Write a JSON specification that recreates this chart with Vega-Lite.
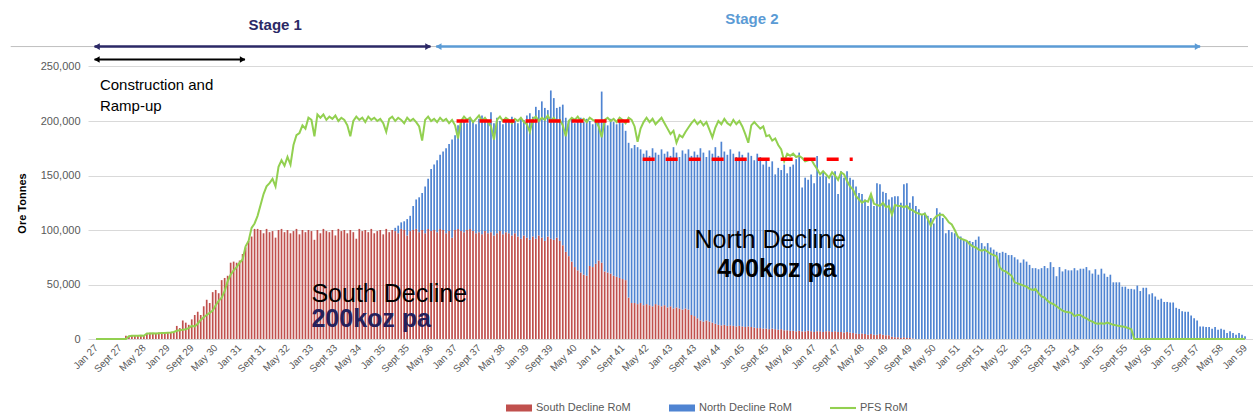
{
"$schema": "https://vega.github.io/schema/vega-lite/v6.json",
"width": 1165, "height": 327,
"autosize": {"type": "none"},
"padding": {"left": 88, "top": 12, "right": 0, "bottom": 80},
"background": "white",
"config": {"view": {"stroke": null}, "font": "Liberation Sans"},
"resolve": {"axis": {"x": "independent", "y": "independent"}},
"datasets": {"rom": [
{"m":0,"s":0,"n":0,"p":0},{"m":1,"s":0,"n":0,"p":0},{"m":2,"s":0,"n":0,"p":0},{"m":3,"s":0,"n":0,"p":0},{"m":4,"s":0,"n":0,"p":0},{"m":5,"s":0,"n":0,"p":0},{"m":6,"s":0,"n":0,"p":0},{"m":7,"s":0,"n":0,"p":0},{"m":8,"s":0,"n":0,"p":0},{"m":9,"s":0,"n":0,"p":0},
{"m":10,"s":3000,"n":0,"p":0},{"m":11,"s":2500,"n":0,"p":2500},{"m":12,"s":3200,"n":0,"p":3000},{"m":13,"s":2800,"n":0,"p":3000},{"m":14,"s":3000,"n":0,"p":3000},{"m":15,"s":3300,"n":0,"p":3200},{"m":16,"s":2900,"n":0,"p":3000},{"m":17,"s":5500,"n":0,"p":5000},{"m":18,"s":5800,"n":0,"p":5000},{"m":19,"s":5200,"n":0,"p":5200},
{"m":20,"s":5600,"n":0,"p":5000},{"m":21,"s":5900,"n":0,"p":5300},{"m":22,"s":5400,"n":0,"p":5500},{"m":23,"s":5700,"n":0,"p":5600},{"m":24,"s":5500,"n":0,"p":5800},{"m":25,"s":6000,"n":0,"p":6000},{"m":26,"s":5800,"n":0,"p":6500},{"m":27,"s":12000,"n":0,"p":7500},{"m":28,"s":10000,"n":0,"p":8000},{"m":29,"s":17000,"n":0,"p":8500},
{"m":30,"s":15000,"n":0,"p":9000},{"m":31,"s":13000,"n":0,"p":10000},{"m":32,"s":18000,"n":0,"p":12000},{"m":33,"s":22000,"n":0,"p":11500},{"m":34,"s":25000,"n":0,"p":14000},{"m":35,"s":22000,"n":0,"p":17500},{"m":36,"s":30000,"n":0,"p":20000},{"m":37,"s":36000,"n":0,"p":22000},{"m":38,"s":33000,"n":0,"p":24000},{"m":39,"s":43000,"n":0,"p":26000},
{"m":40,"s":45000,"n":0,"p":31000},{"m":41,"s":42000,"n":0,"p":35000},{"m":42,"s":54000,"n":0,"p":38000},{"m":43,"s":56000,"n":0,"p":44000},{"m":44,"s":58000,"n":0,"p":53000},{"m":45,"s":70000,"n":0,"p":59000},{"m":46,"s":71000,"n":0,"p":63000},{"m":47,"s":70000,"n":0,"p":66000},{"m":48,"s":72000,"n":0,"p":70000},{"m":49,"s":78000,"n":0,"p":73000},
{"m":50,"s":84000,"n":0,"p":85000},{"m":51,"s":90000,"n":0,"p":90000},{"m":52,"s":94000,"n":0,"p":102000},{"m":53,"s":101000,"n":0,"p":106000},{"m":54,"s":101000,"n":0,"p":113000},{"m":55,"s":100000,"n":0,"p":123000},{"m":56,"s":97000,"n":0,"p":133000},{"m":57,"s":101000,"n":0,"p":140000},{"m":58,"s":98000,"n":0,"p":143000},{"m":59,"s":99000,"n":0,"p":147000},
{"m":60,"s":93000,"n":0,"p":140000},{"m":61,"s":100000,"n":0,"p":158000},{"m":62,"s":101000,"n":0,"p":164000},{"m":63,"s":98000,"n":0,"p":159000},{"m":64,"s":100000,"n":0,"p":167000},{"m":65,"s":97000,"n":0,"p":160000},{"m":66,"s":99000,"n":0,"p":178000},{"m":67,"s":101000,"n":0,"p":187000},{"m":68,"s":96000,"n":0,"p":189000},{"m":69,"s":100000,"n":0,"p":196000},
{"m":70,"s":98000,"n":0,"p":193000},{"m":71,"s":100000,"n":0,"p":203000},{"m":72,"s":99000,"n":0,"p":201000},{"m":73,"s":91000,"n":0,"p":186000},{"m":74,"s":100000,"n":0,"p":206000},{"m":75,"s":97000,"n":0,"p":203000},{"m":76,"s":101000,"n":0,"p":206000},{"m":77,"s":99000,"n":0,"p":201000},{"m":78,"s":98000,"n":0,"p":204000},{"m":79,"s":100000,"n":0,"p":202000},
{"m":80,"s":95000,"n":0,"p":205000},{"m":81,"s":101000,"n":0,"p":200000},{"m":82,"s":99000,"n":0,"p":203000},{"m":83,"s":100000,"n":0,"p":201000},{"m":84,"s":97000,"n":0,"p":196000},{"m":85,"s":100000,"n":0,"p":186000},{"m":86,"s":98000,"n":0,"p":200000},{"m":87,"s":92000,"n":0,"p":204000},{"m":88,"s":101000,"n":0,"p":201000},{"m":89,"s":99000,"n":0,"p":203000},
{"m":90,"s":100000,"n":0,"p":199000},{"m":91,"s":98000,"n":0,"p":204000},{"m":92,"s":101000,"n":0,"p":201000},{"m":93,"s":97000,"n":0,"p":203000},{"m":94,"s":99000,"n":0,"p":200000},{"m":95,"s":100000,"n":0,"p":202000},{"m":96,"s":96000,"n":0,"p":198000},{"m":97,"s":101000,"n":0,"p":190000},{"m":98,"s":98000,"n":0,"p":202000},{"m":99,"s":100000,"n":0,"p":204000},
{"m":100,"s":99000,"n":3000,"p":200000},{"m":101,"s":97000,"n":7000,"p":203000},{"m":102,"s":101000,"n":6000,"p":201000},{"m":103,"s":100000,"n":8000,"p":198000},{"m":104,"s":95000,"n":15000,"p":203000},{"m":105,"s":99000,"n":14000,"p":200000},{"m":106,"s":100000,"n":22000,"p":202000},{"m":107,"s":101000,"n":27000,"p":199000},{"m":108,"s":98000,"n":32000,"p":195000},{"m":109,"s":100000,"n":34000,"p":182000},
{"m":110,"s":97000,"n":43000,"p":201000},{"m":111,"s":101000,"n":46000,"p":204000},{"m":112,"s":99000,"n":57000,"p":200000},{"m":113,"s":100000,"n":60000,"p":202000},{"m":114,"s":98000,"n":66000,"p":199000},{"m":115,"s":101000,"n":68000,"p":203000},{"m":116,"s":100000,"n":72000,"p":200000},{"m":117,"s":97000,"n":78000,"p":202000},{"m":118,"s":99000,"n":80000,"p":198000},{"m":119,"s":93000,"n":90000,"p":201000},
{"m":120,"s":100000,"n":87000,"p":196000},{"m":121,"s":101000,"n":95000,"p":184000},{"m":122,"s":99000,"n":100000,"p":200000},{"m":123,"s":98000,"n":103000,"p":204000},{"m":124,"s":100000,"n":98000,"p":201000},{"m":125,"s":101000,"n":102000,"p":203000},{"m":126,"s":99000,"n":101000,"p":199000},{"m":127,"s":97000,"n":100000,"p":202000},{"m":128,"s":98000,"n":104000,"p":205000},{"m":129,"s":96000,"n":109000,"p":200000},
{"m":130,"s":99000,"n":100000,"p":203000},{"m":131,"s":97000,"n":104000,"p":199000},{"m":132,"s":98000,"n":110000,"p":195000},{"m":133,"s":95000,"n":103000,"p":183000},{"m":134,"s":97000,"n":106000,"p":201000},{"m":135,"s":99000,"n":101000,"p":204000},{"m":136,"s":96000,"n":101000,"p":200000},{"m":137,"s":98000,"n":104000,"p":203000},{"m":138,"s":97000,"n":102000,"p":201000},{"m":139,"s":95000,"n":109000,"p":198000},
{"m":140,"s":97000,"n":103000,"p":202000},{"m":141,"s":94000,"n":104000,"p":200000},{"m":142,"s":92000,"n":111000,"p":203000},{"m":143,"s":95000,"n":106000,"p":199000},{"m":144,"s":93000,"n":112000,"p":197000},{"m":145,"s":91000,"n":116000,"p":190000},{"m":146,"s":94000,"n":110000,"p":202000},{"m":147,"s":92000,"n":121000,"p":204000},{"m":148,"s":95000,"n":115000,"p":200000},{"m":149,"s":93000,"n":125000,"p":203000},
{"m":150,"s":90000,"n":122000,"p":201000},{"m":151,"s":94000,"n":116000,"p":205000},{"m":152,"s":92000,"n":136000,"p":200000},{"m":153,"s":91000,"n":130000,"p":203000},{"m":154,"s":93000,"n":119000,"p":199000},{"m":155,"s":90000,"n":123000,"p":201000},{"m":156,"s":86000,"n":129000,"p":196000},{"m":157,"s":80000,"n":123000,"p":186000},{"m":158,"s":76000,"n":124000,"p":200000},{"m":159,"s":71000,"n":131000,"p":203000},
{"m":160,"s":66000,"n":132000,"p":201000},{"m":161,"s":63000,"n":138000,"p":204000},{"m":162,"s":61000,"n":142000,"p":200000},{"m":163,"s":59000,"n":140000,"p":202000},{"m":164,"s":58000,"n":144000,"p":199000},{"m":165,"s":67000,"n":133000,"p":203000},{"m":166,"s":66000,"n":131000,"p":201000},{"m":167,"s":69000,"n":132000,"p":200000},{"m":168,"s":72000,"n":127000,"p":195000},{"m":169,"s":70000,"n":157000,"p":185000},
{"m":170,"s":62000,"n":138000,"p":201000},{"m":171,"s":61000,"n":135000,"p":203000},{"m":172,"s":60000,"n":142000,"p":200000},{"m":173,"s":58000,"n":141000,"p":202000},{"m":174,"s":57000,"n":140000,"p":199000},{"m":175,"s":56000,"n":145000,"p":203000},{"m":176,"s":55000,"n":143000,"p":201000},{"m":177,"s":54000,"n":137000,"p":198000},{"m":178,"s":38000,"n":142000,"p":203000},{"m":179,"s":33000,"n":142000,"p":201000},
{"m":180,"s":33000,"n":145000,"p":195000},{"m":181,"s":32000,"n":144000,"p":181000},{"m":182,"s":33000,"n":141000,"p":193000},{"m":183,"s":31000,"n":139000,"p":199000},{"m":184,"s":32000,"n":141000,"p":203000},{"m":185,"s":31000,"n":137000,"p":199000},{"m":186,"s":30000,"n":145000,"p":202000},{"m":187,"s":32000,"n":139000,"p":197000},{"m":188,"s":31000,"n":138000,"p":200000},{"m":189,"s":30000,"n":144000,"p":203000},
{"m":190,"s":31000,"n":139000,"p":198000},{"m":191,"s":29000,"n":143000,"p":193000},{"m":192,"s":30000,"n":138000,"p":188000},{"m":193,"s":28000,"n":148000,"p":191000},{"m":194,"s":29000,"n":142000,"p":180000},{"m":195,"s":28000,"n":139000,"p":187000},{"m":196,"s":27000,"n":146000,"p":185000},{"m":197,"s":28000,"n":142000,"p":190000},{"m":198,"s":27000,"n":147000,"p":194000},{"m":199,"s":22000,"n":146000,"p":198000},
{"m":200,"s":21000,"n":151000,"p":201000},{"m":201,"s":19000,"n":150000,"p":197000},{"m":202,"s":17000,"n":158000,"p":200000},{"m":203,"s":16000,"n":155000,"p":196000},{"m":204,"s":17000,"n":150000,"p":199000},{"m":205,"s":16000,"n":157000,"p":192000},{"m":206,"s":15000,"n":155000,"p":185000},{"m":207,"s":14000,"n":162000,"p":194000},{"m":208,"s":13000,"n":155000,"p":200000},{"m":209,"s":12500,"n":168500,"p":197000},
{"m":210,"s":13000,"n":159000,"p":202000},{"m":211,"s":12000,"n":157000,"p":198000},{"m":212,"s":12500,"n":161500,"p":196000},{"m":213,"s":12000,"n":158000,"p":201000},{"m":214,"s":11500,"n":155500,"p":197000},{"m":215,"s":12000,"n":160000,"p":200000},{"m":216,"s":11500,"n":157500,"p":195000},{"m":217,"s":11000,"n":155000,"p":188000},{"m":218,"s":11500,"n":159500,"p":180000},{"m":219,"s":11000,"n":157000,"p":196000},
{"m":220,"s":10500,"n":153500,"p":199000},{"m":221,"s":10000,"n":160000,"p":196000},{"m":222,"s":10000,"n":157000,"p":193000},{"m":223,"s":9500,"n":150500,"p":195000},{"m":224,"s":9500,"n":155500,"p":186000},{"m":225,"s":9000,"n":149000,"p":187000},{"m":226,"s":9500,"n":153500,"p":182000},{"m":227,"s":9000,"n":142000,"p":184000},{"m":228,"s":8500,"n":148500,"p":178000},{"m":229,"s":9000,"n":146000,"p":174000},
{"m":230,"s":8000,"n":152000,"p":163000},{"m":231,"s":8000,"n":144000,"p":170000},{"m":232,"s":7500,"n":150500,"p":168000},{"m":233,"s":7500,"n":152500,"p":170000},{"m":234,"s":7000,"n":158000,"p":167000},{"m":235,"s":7500,"n":163500,"p":168000},{"m":236,"s":7000,"n":132000,"p":166000},{"m":237,"s":7000,"n":141000,"p":163000},{"m":238,"s":7500,"n":138500,"p":164000},{"m":239,"s":7000,"n":144000,"p":165000},
{"m":240,"s":6500,"n":136500,"p":160000},{"m":241,"s":7000,"n":161000,"p":156000},{"m":242,"s":7000,"n":142000,"p":151000},{"m":243,"s":6500,"n":147500,"p":154000},{"m":244,"s":7000,"n":142000,"p":151000},{"m":245,"s":7000,"n":136000,"p":148000},{"m":246,"s":6500,"n":143500,"p":153000},{"m":247,"s":7000,"n":147000,"p":150000},{"m":248,"s":6500,"n":126500,"p":146000},{"m":249,"s":6500,"n":147500,"p":153000},
{"m":250,"s":6000,"n":142000,"p":151000},{"m":251,"s":6500,"n":147500,"p":145000},{"m":252,"s":6000,"n":142000,"p":140000},{"m":253,"s":5500,"n":140500,"p":137000},{"m":254,"s":5000,"n":135000,"p":131000},{"m":255,"s":4500,"n":129500,"p":128000},{"m":256,"s":5000,"n":128000,"p":125000},{"m":257,"s":4500,"n":123500,"p":127000},{"m":258,"s":4000,"n":118000,"p":126000},{"m":259,"s":4500,"n":126500,"p":133000},
{"m":260,"s":4000,"n":118000,"p":124000},{"m":261,"s":4000,"n":139000,"p":123000},{"m":262,"s":4500,"n":137500,"p":122000},{"m":263,"s":4000,"n":131000,"p":125000},{"m":264,"s":3500,"n":130500,"p":121000},{"m":265,"s":3500,"n":124500,"p":122000},{"m":266,"s":2000,"n":128000,"p":114000},{"m":267,"s":1500,"n":129500,"p":123000},{"m":268,"s":1500,"n":129500,"p":122000},{"m":269,"s":1000,"n":124000,"p":122000},
{"m":270,"s":1500,"n":140500,"p":121000},{"m":271,"s":1000,"n":142000,"p":122000},{"m":272,"s":1000,"n":124000,"p":119000},{"m":273,"s":500,"n":130500,"p":118000},{"m":274,"s":0,"n":122000,"p":116000},{"m":275,"s":0,"n":119000,"p":115000},{"m":276,"s":0,"n":114000,"p":114000},{"m":277,"s":0,"n":116000,"p":115000},{"m":278,"s":0,"n":113000,"p":110000},{"m":279,"s":0,"n":111000,"p":104000},
{"m":280,"s":0,"n":106000,"p":110000},{"m":281,"s":0,"n":120000,"p":113000},{"m":282,"s":0,"n":116000,"p":114000},{"m":283,"s":0,"n":111000,"p":114000},{"m":284,"s":0,"n":97000,"p":111000},{"m":285,"s":0,"n":100000,"p":107000},{"m":286,"s":0,"n":98000,"p":105000},{"m":287,"s":0,"n":97000,"p":100000},{"m":288,"s":0,"n":94000,"p":94000},{"m":289,"s":0,"n":94000,"p":92000},
{"m":290,"s":0,"n":91000,"p":91000},{"m":291,"s":0,"n":90000,"p":90000},{"m":292,"s":0,"n":90000,"p":87000},{"m":293,"s":0,"n":89000,"p":85000},{"m":294,"s":0,"n":91000,"p":84000},{"m":295,"s":0,"n":94000,"p":82000},{"m":296,"s":0,"n":88000,"p":81000},{"m":297,"s":0,"n":85000,"p":82000},{"m":298,"s":0,"n":88000,"p":80000},{"m":299,"s":0,"n":84000,"p":78000},
{"m":300,"s":0,"n":82000,"p":77000},{"m":301,"s":0,"n":80000,"p":76000},{"m":302,"s":0,"n":79000,"p":66000},{"m":303,"s":0,"n":80000,"p":63000},{"m":304,"s":0,"n":79000,"p":62000},{"m":305,"s":0,"n":77000,"p":60000},{"m":306,"s":0,"n":77000,"p":58000},{"m":307,"s":0,"n":75000,"p":52000},{"m":308,"s":0,"n":73000,"p":51000},{"m":309,"s":0,"n":70000,"p":50000},
{"m":310,"s":0,"n":73000,"p":49000},{"m":311,"s":0,"n":71000,"p":48000},{"m":312,"s":0,"n":68000,"p":46000},{"m":313,"s":0,"n":65000,"p":45000},{"m":314,"s":0,"n":65000,"p":46000},{"m":315,"s":0,"n":64000,"p":42000},{"m":316,"s":0,"n":65000,"p":39000},{"m":317,"s":0,"n":67000,"p":38000},{"m":318,"s":0,"n":65000,"p":35000},{"m":319,"s":0,"n":70500,"p":33000},
{"m":320,"s":0,"n":66000,"p":32000},{"m":321,"s":0,"n":57600,"p":30000},{"m":322,"s":0,"n":66000,"p":28000},{"m":323,"s":0,"n":62000,"p":26000},{"m":324,"s":0,"n":64000,"p":25000},{"m":325,"s":0,"n":63000,"p":24500},{"m":326,"s":0,"n":63000,"p":24000},{"m":327,"s":0,"n":65000,"p":21000},{"m":328,"s":0,"n":63000,"p":22000},{"m":329,"s":0,"n":64500,"p":22000},
{"m":330,"s":0,"n":64500,"p":20000},{"m":331,"s":0,"n":66000,"p":19000},{"m":332,"s":0,"n":63000,"p":17000},{"m":333,"s":0,"n":60000,"p":16000},{"m":334,"s":0,"n":64000,"p":14500},{"m":335,"s":0,"n":59000,"p":14000},{"m":336,"s":0,"n":64500,"p":14500},{"m":337,"s":0,"n":60000,"p":14000},{"m":338,"s":0,"n":57000,"p":15000},{"m":339,"s":0,"n":59000,"p":14000},
{"m":340,"s":0,"n":52000,"p":13000},{"m":341,"s":0,"n":52000,"p":12500},{"m":342,"s":0,"n":52000,"p":12000},{"m":343,"s":0,"n":48000,"p":11500},{"m":344,"s":0,"n":48000,"p":11000},{"m":345,"s":0,"n":46000,"p":10000},{"m":346,"s":0,"n":46000,"p":9000},{"m":347,"s":0,"n":45500,"p":0},{"m":348,"s":0,"n":49000,"p":0},{"m":349,"s":0,"n":44000,"p":0},
{"m":350,"s":0,"n":47000,"p":0},{"m":351,"s":0,"n":47000,"p":0},{"m":352,"s":0,"n":41000,"p":0},{"m":353,"s":0,"n":42000,"p":0},{"m":354,"s":0,"n":39000,"p":0},{"m":355,"s":0,"n":36000,"p":0},{"m":356,"s":0,"n":37000,"p":0},{"m":357,"s":0,"n":34000,"p":0},{"m":358,"s":0,"n":34000,"p":0},{"m":359,"s":0,"n":33500,"p":0},
{"m":360,"s":0,"n":33500,"p":0},{"m":361,"s":0,"n":28600,"p":0},{"m":362,"s":0,"n":27600,"p":0},{"m":363,"s":0,"n":25500,"p":0},{"m":364,"s":0,"n":25000,"p":0},{"m":365,"s":0,"n":25000,"p":0},{"m":366,"s":0,"n":21500,"p":0},{"m":367,"s":0,"n":19000,"p":0},{"m":368,"s":0,"n":17000,"p":0},{"m":369,"s":0,"n":11500,"p":0},
{"m":370,"s":0,"n":11500,"p":0},{"m":371,"s":0,"n":11000,"p":0},{"m":372,"s":0,"n":11000,"p":0},{"m":373,"s":0,"n":9500,"p":0},{"m":374,"s":0,"n":11000,"p":0},{"m":375,"s":0,"n":8500,"p":0},{"m":376,"s":0,"n":9500,"p":0},{"m":377,"s":0,"n":8500,"p":0},{"m":378,"s":0,"n":5500,"p":0},{"m":379,"s":0,"n":7000,"p":0},
{"m":380,"s":0,"n":5500,"p":0},{"m":381,"s":0,"n":4000,"p":0},{"m":382,"s":0,"n":5500,"p":0},{"m":383,"s":0,"n":4000,"p":0},{"m":384,"s":0,"n":2500,"p":0}
]},
"layer": [
{
 "data": {"name": "rom"},
 "transform": [{"fold": ["s", "n"], "as": ["k", "v"]}],
 "mark": {"type": "bar", "size": 1.7},
 "encoding": {
  "x": {"field": "m", "type": "quantitative", "scale": {"domain": [-1, 385], "nice": false, "zero": false},
        "axis": {"values": [0,8,16,24,32,40,48,56,64,72,80,88,96,104,112,120,128,136,144,152,160,168,176,184,192,200,208,216,224,232,240,248,256,264,272,280,288,296,304,312,320,328,336,344,352,360,368,376,384],
                 "labelExpr": "['Jan','Feb','Mar','Apr','May','Jun','Jul','Aug','Sept','Oct','Nov','Dec'][datum.value % 12] + ' ' + (27 + floor(datum.value / 12))",
                 "labelAngle": -45, "labelAlign": "right", "labelBaseline": "middle", "labelFontSize": 10, "labelColor": "#595959", "labelFont": "Liberation Sans",
                 "ticks": false, "domain": false, "grid": false, "title": null, "labelPadding": 7, "labelOverlap": false, "labelBound": false}},
  "y": {"field": "v", "type": "quantitative", "stack": "zero", "scale": {"domain": [0, 300000], "nice": false},
        "axis": {"values": [0,50000,100000,150000,200000,250000], "labelExpr": "format(datum.value, ',')", "labelFontSize": 11, "labelColor": "#595959", "labelPadding": 8,
                 "ticks": false, "domain": false, "grid": true, "gridColor": "#D9D9D9", "gridWidth": 1,
                 "title": "Ore Tonnes", "titleFontSize": 11, "titleFontWeight": "bold", "titleColor": "#000000", "titleX": -66, "titleY": 191, "titleBaseline": "middle", "titleAlign": "center"}},
  "color": {"field": "k", "type": "nominal",
            "scale": {"domain": ["s", "n", "p"], "range": ["#C0504D", "#4F84D2", "#92D050"]},
            "legend": {"orient": "none", "legendX": 418, "legendY": 383, "direction": "horizontal", "title": null,
                       "labelExpr": "datum.value == 's' ? 'South Decline RoM' : datum.value == 'n' ? 'North Decline RoM' : 'PFS RoM'",
                       "labelFontSize": 11, "labelColor": "#595959", "labelFont": "Liberation Sans",
                       "symbolSize": 676, "columnPadding": 38, "labelOffset": 4,
                       "symbolType": "M-1,-0.27H1V0.27H-1Z",
                       "encode": {"symbols": {"update": {
                          "shape": {"signal": "datum.value == 'p' ? 'M-1,-0.08H1V0.08H-1Z' : 'M-1,-0.27H1V0.27H-1Z'"},
                          "fill": {"scale": "color", "field": "value"},
                          "strokeWidth": {"value": 0}, "opacity": {"value": 1}}}}}},
  "order": {"field": "k", "sort": "descending"}
 }
},
{
 "data": {"name": "rom"},
 "mark": {"type": "line", "strokeWidth": 2, "interpolate": "linear"},
 "encoding": {
  "x": {"field": "m", "type": "quantitative", "scale": {"domain": [-1, 385], "nice": false, "zero": false}, "axis": null},
  "y": {"field": "p", "type": "quantitative", "scale": {"domain": [0, 300000], "nice": false}, "axis": null},
  "color": {"datum": "p"}
 }
},
{
 "data": {"values": [{"a": 120.5, "b": 179.1, "t": 200000}, {"a": 182.7, "b": 252.9, "t": 165000}]},
 "mark": {"type": "rule", "color": "#FF0000", "strokeWidth": 3.5, "strokeDash": [12, 11]},
 "encoding": {"x": {"field": "a", "type": "quantitative", "axis": null}, "x2": {"field": "b"}, "y": {"field": "t", "type": "quantitative", "axis": null}}
},
{
 "data": {"values": [{"a": -28.5, "b": 385, "t": 268300}]},
 "mark": {"type": "rule", "color": "#BFBFBF", "strokeWidth": 1},
 "encoding": {"x": {"field": "a", "type": "quantitative", "axis": null}, "x2": {"field": "b"}, "y": {"field": "t", "type": "quantitative", "axis": null}}
},
{
 "data": {"values": [{"a": -0.5, "b": 111.8, "t": 268300}]},
 "mark": {"type": "rule", "color": "#2B2966", "strokeWidth": 2.5},
 "encoding": {"x": {"field": "a", "type": "quantitative", "axis": null}, "x2": {"field": "b"}, "y": {"field": "t", "type": "quantitative", "axis": null}}
},
{
 "data": {"values": [{"a": 113.7, "b": 369, "t": 268300}]},
 "mark": {"type": "rule", "color": "#5B9BD5", "strokeWidth": 2.5},
 "encoding": {"x": {"field": "a", "type": "quantitative", "axis": null}, "x2": {"field": "b"}, "y": {"field": "t", "type": "quantitative", "axis": null}}
},
{
 "data": {"values": [{"a": -0.5, "b": 49.8, "t": 256400}]},
 "mark": {"type": "rule", "color": "#000000", "strokeWidth": 2},
 "encoding": {"x": {"field": "a", "type": "quantitative", "axis": null}, "x2": {"field": "b"}, "y": {"field": "t", "type": "quantitative", "axis": null}}
},
{
 "data": {"values": [{"a": 0.3, "t": 268300, "d": "left"}, {"a": 111.0, "t": 268300, "d": "right"}]},
 "mark": {"type": "point", "filled": true, "opacity": 1, "size": 45, "color": "#2B2966"},
 "encoding": {"x": {"field": "a", "type": "quantitative", "axis": null}, "y": {"field": "t", "type": "quantitative", "axis": null},
              "shape": {"field": "d", "type": "nominal", "scale": {"domain": ["left", "right"], "range": ["triangle-left", "triangle-right"]}, "legend": null}}
},
{
 "data": {"values": [{"a": 114.5, "t": 268300, "d": "left"}, {"a": 368.2, "t": 268300, "d": "right"}]},
 "mark": {"type": "point", "filled": true, "opacity": 1, "size": 45, "color": "#5B9BD5"},
 "encoding": {"x": {"field": "a", "type": "quantitative", "axis": null}, "y": {"field": "t", "type": "quantitative", "axis": null},
              "shape": {"field": "d", "type": "nominal", "legend": null}}
},
{
 "data": {"values": [{"a": 0.3, "t": 256400, "d": "left"}, {"a": 49.0, "t": 256400, "d": "right"}]},
 "mark": {"type": "point", "filled": true, "opacity": 1, "size": 40, "color": "#000000"},
 "encoding": {"x": {"field": "a", "type": "quantitative", "axis": null}, "y": {"field": "t", "type": "quantitative", "axis": null},
              "shape": {"field": "d", "type": "nominal", "legend": null}}
},
{
 "data": {"values": [{"a": 59.9, "t": 288500, "label": "Stage 1"}]},
 "mark": {"type": "text", "fontSize": 15, "fontWeight": "bold", "color": "#2B2966", "align": "center", "baseline": "middle", "font": "Liberation Sans"},
 "encoding": {"x": {"field": "a", "type": "quantitative", "axis": null}, "y": {"field": "t", "type": "quantitative", "axis": null}, "text": {"field": "label"}}
},
{
 "data": {"values": [{"a": 219.2, "t": 294000, "label": "Stage 2"}]},
 "mark": {"type": "text", "fontSize": 15, "fontWeight": "bold", "color": "#5B9BD5", "align": "center", "baseline": "middle", "font": "Liberation Sans"},
 "encoding": {"x": {"field": "a", "type": "quantitative", "axis": null}, "y": {"field": "t", "type": "quantitative", "axis": null}, "text": {"field": "label"}}
},
{
 "data": {"values": [{"a": 1.3, "t": 232600, "label": "Construction and"}, {"a": 1.3, "t": 214200, "label": "Ramp-up"}]},
 "mark": {"type": "text", "fontSize": 15, "color": "#000000", "align": "left", "baseline": "middle", "font": "Liberation Sans"},
 "encoding": {"x": {"field": "a", "type": "quantitative", "axis": null}, "y": {"field": "t", "type": "quantitative", "axis": null}, "text": {"field": "label"}}
},
{
 "data": {"values": [{"a": 72.0, "t": 41700, "label": "South Decline"}, {"a": 200, "t": 90400, "label": "North Decline"}]},
 "mark": {"type": "text", "fontSize": 25, "color": "#000000", "align": "left", "baseline": "middle", "font": "Liberation Sans"},
 "encoding": {"x": {"field": "a", "type": "quantitative", "axis": null}, "y": {"field": "t", "type": "quantitative", "axis": null}, "text": {"field": "label"}}
},
{
 "data": {"values": [{"a": 72.0, "t": 17900, "label": "200koz pa"}]},
 "mark": {"type": "text", "fontSize": 25, "fontWeight": "bold", "color": "#24215C", "align": "left", "baseline": "middle", "font": "Liberation Sans"},
 "encoding": {"x": {"field": "a", "type": "quantitative", "axis": null}, "y": {"field": "t", "type": "quantitative", "axis": null}, "text": {"field": "label"}}
},
{
 "data": {"values": [{"a": 207.6, "t": 63800, "label": "400koz pa"}]},
 "mark": {"type": "text", "fontSize": 25, "fontWeight": "bold", "color": "#000000", "align": "left", "baseline": "middle", "font": "Liberation Sans"},
 "encoding": {"x": {"field": "a", "type": "quantitative", "axis": null}, "y": {"field": "t", "type": "quantitative", "axis": null}, "text": {"field": "label"}}
}
]
}
